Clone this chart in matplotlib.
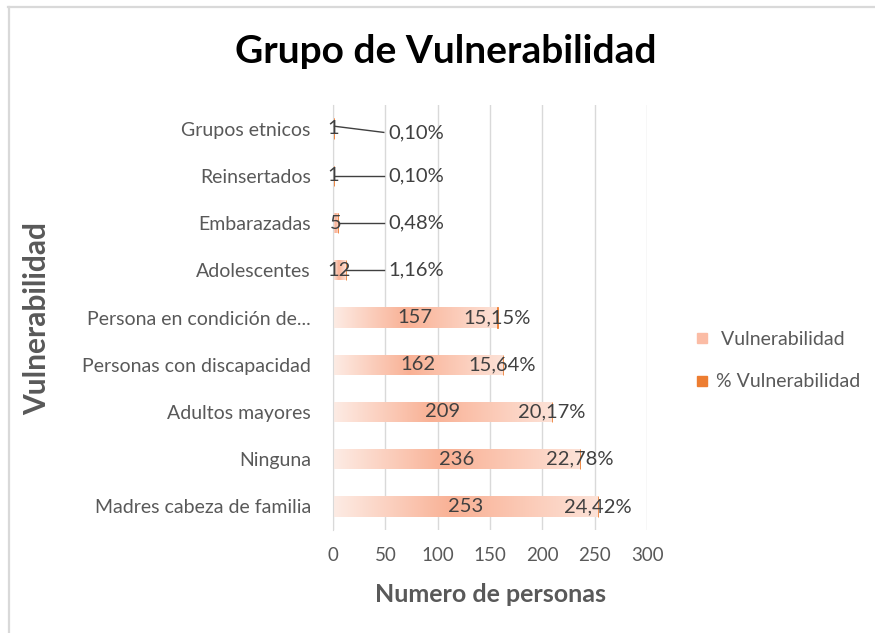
import matplotlib.pyplot as plt
import numpy as np
from matplotlib.colors import LinearSegmentedColormap
from matplotlib.lines import Line2D

plt.rcParams["font.family"] = ["Lato", "DejaVu Sans"]

categories = [
    "Madres cabeza de familia",
    "Ninguna",
    "Adultos mayores",
    "Personas con discapacidad",
    "Persona en condición de...",
    "Adolescentes",
    "Embarazadas",
    "Reinsertados",
    "Grupos etnicos",
]
counts = [253, 236, 209, 162, 157, 12, 5, 1, 1]
pct_labels = ["24,42%", "22,78%", "20,17%", "15,64%", "15,15%", "1,16%", "0,48%", "0,10%", "0,10%"]
pct_values = [24.42, 22.78, 20.17, 15.64, 15.15, 1.16, 0.48, 0.10, 0.10]
x_ticks = [0, 50, 100, 150, 200, 250, 300]

text_grey = "#595959"
label_grey = "#404040"
orange = "#ed7d31"
grad = LinearSegmentedColormap.from_list(
    "bar", [(0.0, "#fdece5"), (0.45, "#f9b195"), (1.0, "#fde2d7")]
)

fig = plt.figure(figsize=(8.75, 6.33), dpi=100)
ax = fig.add_axes([0.3806, 0.1627, 0.3589, 0.6714])

y = np.arange(len(categories))
bar_h = 0.43
bars = ax.barh(y, counts, height=bar_h, color="none", edgecolor="none", zorder=2)
gradient = np.linspace(0, 1, 256).reshape(1, -1)
for rect in bars:
    x0, y0 = rect.get_x(), rect.get_y()
    im = ax.imshow(
        gradient, cmap=grad, aspect="auto", zorder=2,
        extent=[x0, x0 + rect.get_width(), y0, y0 + rect.get_height()],
    )
    im.set_clip_path(rect)

# stacked % series (tiny, shows as a thin orange tick at the bar end)
ax.barh(y, np.array(pct_values) / 100, left=counts, height=bar_h,
        color=orange, edgecolor=orange, linewidth=0.6, zorder=3)

ax.set_xlim(0, 300)
ax.set_ylim(-0.5, len(categories) - 0.5)
ax.set_xticks(x_ticks)
ax.set_yticks(y)
ax.set_yticklabels(categories)
ax.tick_params(axis="both", length=0, labelsize=13.5, colors=text_grey)
ax.tick_params(axis="y", labelsize=14)
ax.tick_params(axis="x", pad=12)
ax.tick_params(axis="y", pad=16)
ax.grid(axis="x", color="#d9d9d9", linewidth=1, zorder=0)
ax.set_axisbelow(True)
for side in ["top", "right", "bottom"]:
    ax.spines[side].set_visible(False)
ax.spines["left"].set_color("#d9d9d9")

for i, (c, p) in enumerate(zip(counts, pct_labels)):
    ax.text(c / 2, i, str(c), ha="center", va="center", fontsize=14.5,
            color=label_grey, zorder=4)
    if c > 50:
        ax.text(c, i, p, ha="center", va="center", fontsize=14.5,
                color=label_grey, zorder=4)
    else:
        dy = -0.08 if i == len(categories) - 1 else 0.0
        ax.plot([c + 0.5, 48.5], [i + 0.05 if dy else i, i + dy], color="#404040",
                linewidth=1, zorder=4)
        ax.text(53, i + dy, p, ha="left", va="center", fontsize=14.5,
                color=label_grey, zorder=4)

ax.set_xlabel("Numero de personas", fontsize=18, fontweight="bold",
              color=text_grey, labelpad=14)
fig.text(0.042, 0.497, "Vulnerabilidad", rotation=90, ha="center", va="center",
         fontsize=21.5, fontweight="bold", color=text_grey)
fig.text(0.509, 0.918, "Grupo de Vulnerabilidad", ha="center", va="center",
         fontsize=28, fontweight="bold", color="black")

handles = [
    Line2D([], [], marker="s", linestyle="none", markersize=7,
           color="#fbbca5", label=" Vulnerabilidad"),
    Line2D([], [], marker="s", linestyle="none", markersize=7,
           color=orange, label="% Vulnerabilidad"),
]
fig.legend(handles=handles, loc="center left", bbox_to_anchor=(0.776, 0.43),
           frameon=False, fontsize=14, labelcolor=text_grey,
           handlelength=0.6, handletextpad=0.4, labelspacing=1.3)

# chart frame (only top and left visible in the screenshot)
fig.add_artist(Line2D([0.009, 1.0], [0.989, 0.989], color="#d9d9d9", linewidth=1.6,
                      transform=fig.transFigure))
fig.add_artist(Line2D([0.0105, 0.0105], [0.0, 0.989], color="#d9d9d9", linewidth=1.6,
                      transform=fig.transFigure))

fig.savefig("out.png", dpi=100)
